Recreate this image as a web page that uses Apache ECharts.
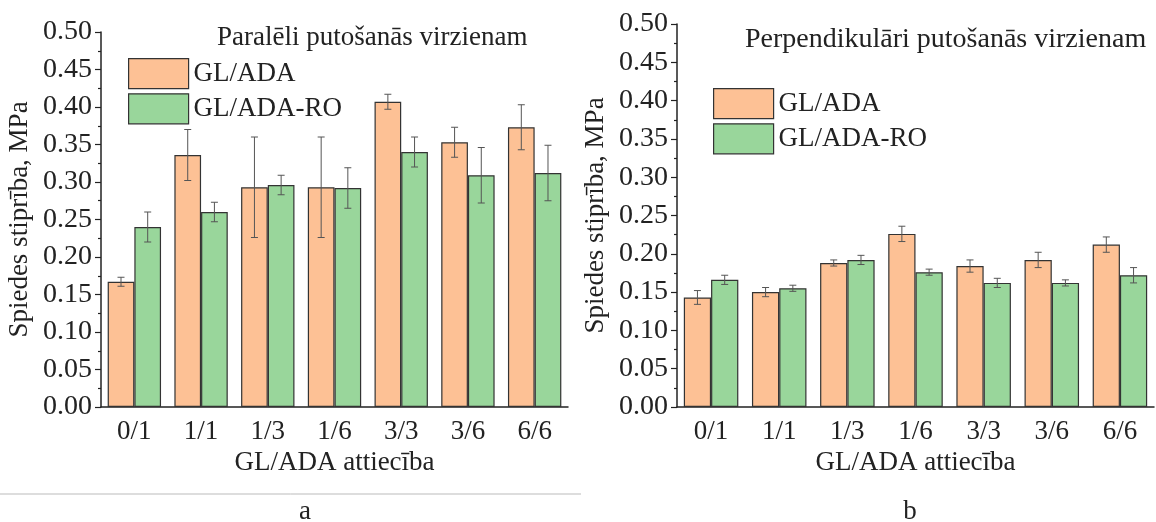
<!DOCTYPE html>
<html>
<head>
<meta charset="utf-8">
<script src="https://cdn.jsdelivr.net/npm/echarts@6/dist/echarts.min.js"></script>
<style>
  html, body { margin: 0; padding: 0; background: #fff; }
  #chart { width: 1156px; height: 522px; }
</style>
</head>
<body>
<div id="chart"></div>
<script>
// ratios on the x axis
const categories = ['0/1', '1/1', '1/3', '1/6', '3/3', '3/6', '6/6']

// a: parallel to the foaming direction
const parGlAda = [0.167, 0.336, 0.293, 0.293, 0.407, 0.353, 0.373]
const parGlAdaErr = [0.006, 0.034, 0.067, 0.067, 0.010, 0.020, 0.030]
const parGlAdaRo = [0.240, 0.260, 0.296, 0.292, 0.340, 0.309, 0.312]
const parGlAdaRoErr = [0.020, 0.013, 0.013, 0.027, 0.020, 0.037, 0.037]

// b: perpendicular to the foaming direction
const perpGlAda = [0.143, 0.150, 0.188, 0.226, 0.184, 0.192, 0.212]
const perpGlAdaErr = [0.009, 0.006, 0.004, 0.010, 0.008, 0.010, 0.010]
const perpGlAdaRo = [0.166, 0.155, 0.192, 0.176, 0.162, 0.162, 0.172]
const perpGlAdaRoErr = [0.006, 0.004, 0.006, 0.004, 0.006, 0.004, 0.010]

const seriesNames = ['GL/ADA', 'GL/ADA-RO']
const titles = ['Paralēli putošanās virzienam', 'Perpendikulāri putošanās virzienam']

const FONT = 'Liberation Serif'
const INK = '#222'
const ORANGE = '#fdc195'
const GREEN = '#99d69b'
const GAP = 0.2

function errorSeries(idx, vals, errs, side) {
  return {
    type: 'custom',
    xAxisIndex: idx * 2,
    yAxisIndex: idx,
    z: 5,
    silent: true,
    data: vals.map((v, i) => [i, v, errs[i]]),
    renderItem(params, api) {
      const i = api.value(0), v = api.value(1), e = api.value(2)
      const band = api.size([1, 0])[0]
      const bw = band * (1 - GAP) / 2
      const x = api.coord([i, v])[0] + side * bw / 2
      const yt = api.coord([i, v + e])[1]
      const yb = api.coord([i, v - e])[1]
      const st = { stroke: '#555', lineWidth: 1 }
      return {
        type: 'group',
        children: [
          { type: 'line', shape: { x1: x, y1: yt, x2: x, y2: yb }, style: st },
          { type: 'line', shape: { x1: x - 3.5, y1: yt, x2: x + 3.5, y2: yt }, style: st },
          { type: 'line', shape: { x1: x - 3.5, y1: yb, x2: x + 3.5, y2: yb }, style: st }
        ]
      }
    }
  }
}

function barSeries(idx, name, vals, color) {
  return {
    name: name,
    type: 'bar',
    xAxisIndex: idx * 2,
    yAxisIndex: idx,
    barGap: '0%',
    barCategoryGap: (GAP * 100) + '%',
    itemStyle: { color: color, borderColor: '#333', borderWidth: 1.2 },
    data: vals
  }
}

const grids = [
  { left: 101, top: 32, width: 467, height: 375 },
  { left: 677, top: 24, width: 477, height: 383 }
]

function xAxes(idx) {
  return [
    {
      type: 'category',
      gridIndex: idx,
      position: 'bottom',
      data: categories,
      name: 'GL/ADA attiecība',
      nameLocation: 'middle',
      nameGap: 41,
      nameTextStyle: { fontFamily: FONT, fontSize: 27, color: INK },
      axisLine: { lineStyle: { color: INK, width: 1.5 } },
      axisTick: { alignWithLabel: true, length: 6, lineStyle: { color: INK, width: 1.2 } },
      axisLabel: { fontFamily: FONT, fontSize: 27, color: INK, margin: 11 }
    },
    {
      type: 'category',
      gridIndex: idx,
      position: 'bottom',
      data: categories,
      axisLine: { show: false },
      axisTick: { length: 3, lineStyle: { color: INK, width: 1.2 } },
      axisLabel: { show: false }
    }
  ]
}

function yAxis(idx) {
  return {
    type: 'value',
    gridIndex: idx,
    min: 0,
    max: 0.5,
    interval: 0.05,
    name: 'Spiedes stiprība, MPa',
    nameLocation: 'middle',
    nameGap: 68,
    nameTextStyle: { fontFamily: FONT, fontSize: 27, color: INK },
    axisLine: { show: true, lineStyle: { color: INK, width: 1.5 } },
    axisTick: { show: true, length: 6, lineStyle: { color: INK, width: 1.2 } },
    minorTick: { show: true, splitNumber: 2, length: 3, lineStyle: { color: INK, width: 1.2 } },
    splitLine: { show: false },
    axisLabel: {
      fontFamily: FONT, fontSize: 28, color: INK, margin: 9,
      formatter: v => v.toFixed(2)
    }
  }
}

function legend(left, top) {
  return {
    left: left,
    top: top,
    orient: 'vertical',
    icon: 'rect',
    itemWidth: 60,
    itemHeight: 30,
    itemGap: 4,
    data: seriesNames,
    itemStyle: { borderColor: '#333', borderWidth: 1.2 },
    textStyle: { fontFamily: FONT, fontSize: 27, color: INK },
    selectedMode: false
  }
}

const chart = echarts.init(document.getElementById('chart'))
chart.setOption({
  backgroundColor: '#fff',
  animation: false,
  title: [
    { text: titles[0], left: 212, top: 19, textStyle: { fontFamily: FONT, fontSize: 27, fontWeight: 'normal', color: INK } },
    { text: titles[1], left: 740, top: 21, textStyle: { fontFamily: FONT, fontSize: 28, fontWeight: 'normal', color: INK } }
  ],
  legend: [legend(123, 53), legend(708, 83)],
  grid: grids,
  xAxis: xAxes(0).concat(xAxes(1)),
  yAxis: [yAxis(0), yAxis(1)],
  series: [
    barSeries(0, seriesNames[0], parGlAda, ORANGE),
    barSeries(0, seriesNames[1], parGlAdaRo, GREEN),
    errorSeries(0, parGlAda, parGlAdaErr, -1),
    errorSeries(0, parGlAdaRo, parGlAdaRoErr, 1),
    barSeries(1, seriesNames[0], perpGlAda, ORANGE),
    barSeries(1, seriesNames[1], perpGlAdaRo, GREEN),
    errorSeries(1, perpGlAda, perpGlAdaErr, -1),
    errorSeries(1, perpGlAdaRo, perpGlAdaRoErr, 1)
  ],
  graphic: [
    { type: 'line', shape: { x1: 0, y1: 494, x2: 581, y2: 494 }, style: { stroke: '#bbb', lineWidth: 1 } },
    { type: 'text', x: 305, y: 512, style: { text: 'a', font: '27px "Liberation Serif"', fill: INK, align: 'center', verticalAlign: 'middle' } },
    { type: 'text', x: 910, y: 512, style: { text: 'b', font: '27px "Liberation Serif"', fill: INK, align: 'center', verticalAlign: 'middle' } }
  ]
})
</script>
</body>
</html>
